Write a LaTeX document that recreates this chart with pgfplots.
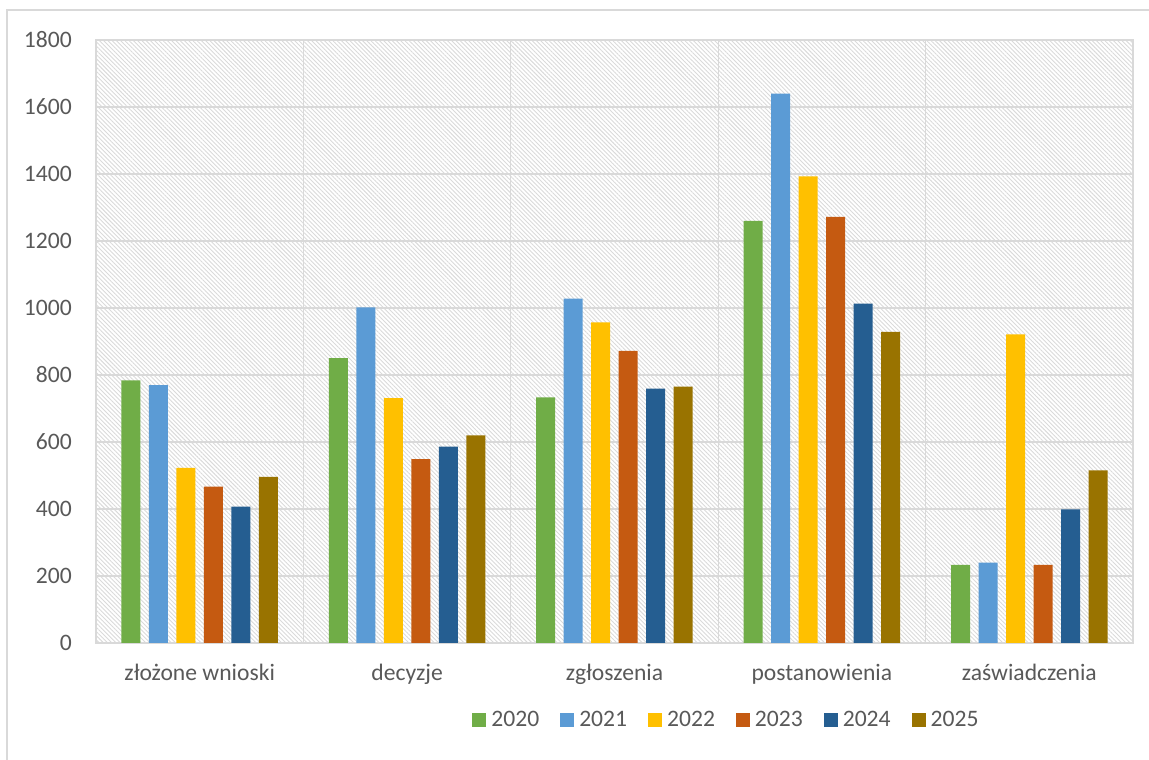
\documentclass[border=0pt]{standalone}
\usepackage{pgfplots}
\pgfplotsset{compat=1.18}
\usepackage{fontspec}
\setmainfont{Carlito}
\usetikzlibrary{patterns.meta}

\definecolor{c2020}{HTML}{70AD47}
\definecolor{c2021}{HTML}{5B9BD5}
\definecolor{c2022}{HTML}{FFC000}
\definecolor{c2023}{HTML}{C55A11}
\definecolor{c2024}{HTML}{255E91}
\definecolor{c2025}{HTML}{997300}
\definecolor{txt}{HTML}{595959}
\definecolor{gridc}{HTML}{D9D9D9}
\definecolor{hatch}{HTML}{DADADA}

\begin{document}
\begin{tikzpicture}
\path[use as bounding box] (-96pt,-117pt) rectangle (1053pt,643pt);
\draw[gridc, line width=1.3pt] (1060pt,633pt) -- (-89pt,633pt) -- (-89pt,-130pt);
\begin{axis}[
    at={(0,0)}, anchor=south west,
    scale only axis,
    width=1037pt, height=603pt,
    xmin=-0.5, xmax=4.5,
    ymin=0, ymax=1800,
    ytick={0,200,...,1800},
    xtick={0,1,2,3,4},
    xticklabels={złożone wnioski, decyzje, zgłoszenia, postanowienia, zaświadczenia},
    minor xtick={0.5,1.5,2.5,3.5},
    minor x grid style={gridc, line width=1.3pt},
    xminorgrids=true,
    ymajorgrids=true,
    major grid style={gridc, line width=1.3pt},
    major tick length=0pt, minor tick length=0pt,
    axis line style={gridc, line width=1.3pt},
    axis background/.style={pattern={Lines[angle=-45,distance=3pt,line width=0.9pt]}, pattern color=hatch},
    font=\fontsize{23.6}{28}\selectfont,
    /pgf/number format/assume math mode=true,
    /pgf/number format/1000 sep={},
    yticklabel style={anchor=east, inner sep=0pt, xshift=-24pt, text=txt},
    xticklabel style={anchor=base, inner sep=0pt, yshift=-38pt, text=txt},
    scaled y ticks=false,
    ybar=8.5pt, bar width=19pt,
    legend columns=6,
    legend style={draw=none, fill=none, inner sep=0pt, outer sep=0pt,
        at={(axis description cs:0.363,-0.1277)}, anchor=west,
        text=txt, font=\fontsize{23.6}{28}\selectfont,
        nodes={inner sep=0pt},
        /tikz/every odd column/.append style={column sep=5pt},
        /tikz/every even column/.append style={column sep=21pt}},
    legend image code/.code={\fill[#1] (0pt,-7pt) rectangle (14pt,7pt);},
]
\addplot[fill=c2020, draw=none] coordinates {(0,784) (1,850) (2,733) (3,1260) (4,233)};
\addplot[fill=c2021, draw=none] coordinates {(0,770) (1,1002) (2,1028) (3,1640) (4,240)};
\addplot[fill=c2022, draw=none] coordinates {(0,523) (1,731) (2,957) (3,1393) (4,921)};
\addplot[fill=c2023, draw=none] coordinates {(0,467) (1,549) (2,872) (3,1272) (4,233)};
\addplot[fill=c2024, draw=none] coordinates {(0,407) (1,586) (2,759) (3,1013) (4,399)};
\addplot[fill=c2025, draw=none] coordinates {(0,496) (1,620) (2,765) (3,929) (4,515)};
\legend{2020,2021,2022,2023,2024,2025}
\end{axis}
\end{tikzpicture}
\end{document}
